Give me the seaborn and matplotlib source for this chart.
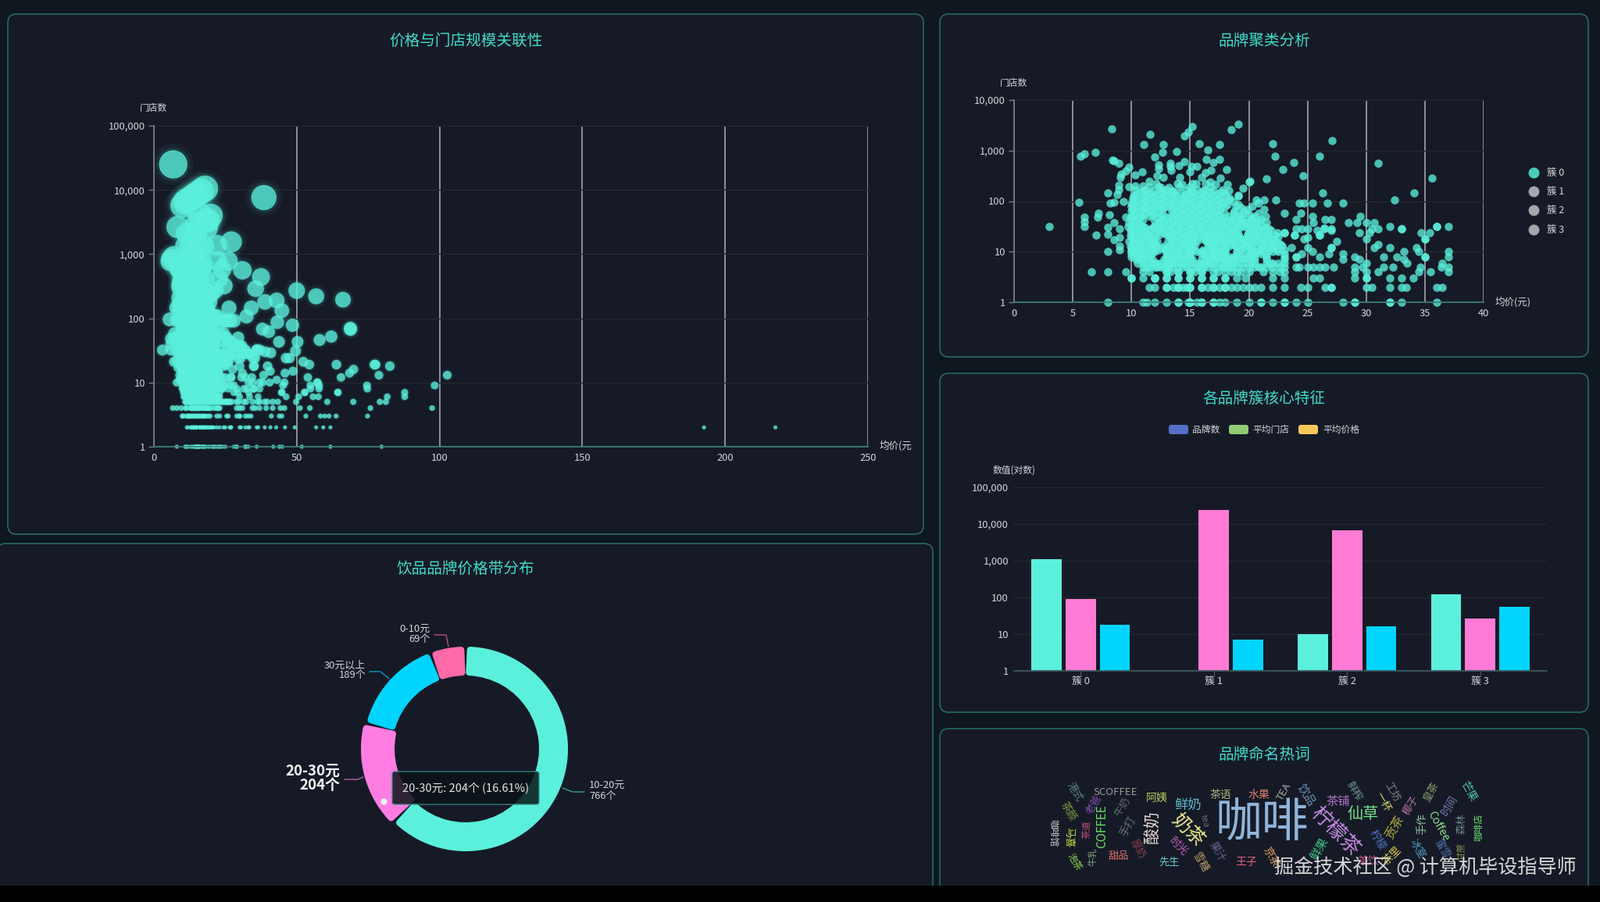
import numpy as np
import pandas as pd
import seaborn as sns
import matplotlib
matplotlib.use("Agg")
import matplotlib.pyplot as plt
from matplotlib.patches import FancyBboxPatch, Rectangle
from matplotlib.ticker import FuncFormatter, NullLocator, FixedLocator

# ---- data ----
# low store counts are integers, so the brands line up in rows
price_s1 = [8,11,11.3,12,13,14,14,14.85,15,15,15,15.6,16,16,17,17,17.5,18,19,20,21,21,22,23,23,24,25,28,29,29,32,32,33,36]
price_s2 = [11.5,12,13,13,13.6,14,14,14.4,14.7,15,15,16,16,16.5,17,17,17.5,18,18,18.5,19,19.5,20,20.5,21,22,23,24.4,25,26.5,27,27,30,30.5,32,33,33.4,36,36.5]
price_s3 = [10,10,11,12,12,12,13,13,14,14,15,15,16,16,17,17,18,18,19,19.7,22,23,25.5,26,29,30,30,32,33,34]
price_s4 = [6.6,8,9.5,11,11.5,13,13,13.3,14,14,15,15,15.4,16,16,17,17.4,18,18.5,19,19.4,20,21.2,22,22.6,23,29,30,31,34.5,35.5,37]
price_s5 = [11,11.3,11.5,12,12.2,12.5,12.8,13,13.2,13.5,14,14.4,14.7,15,15.5,15.8,16,16.2,16.5,17,17.4,17.8,18,18.3,18.5,19,19.5,20,20.4,20.8,21,21.5,22,22.6,23,24,24.3,25,25.5,26,26.5,27.2,29,29.7,31.5,32.3,34.6,36.4,37]
price_s6 = [10.5,11,11.4,11.8,12,12.2,12.5,13,13.2,13.5,13.8,14.2,14.5,15,15.4,15.7,16,16.4,16.7,17,17.5,18,18.3,18.7,19,19.5,20,20.5,21,21.5,21.8,22,22.5,23,30,33.5,36.5]
price_s7 = [10.4,10.7,11,11.5,11.8,12.2,12.5,12.8,13,13.4,13.8,14,14.5,15,15.2,15.5,16,16.3,16.5,17,17.4,17.7,18,18.3,18.5,19,19.5,20,20.3,20.5,21,21.2,21.5,22,22.5,23,28,29.4,33.2]
price_s8 = [10,10.5,10.8,11,11.5,12,12.4,12.7,13,13.2,13.5,14,14.4,14.7,15,15.5,16,16.4,16.7,17,17.2,17.5,18,18.4,18.7,19,19.5,20,20.4,20.7,21,21.5,22,22.5,23,24,24,26,29,31.5,32.6,35,35,37]
price_s9 = [10,10.3,10.7,11,11.4,11.7,12,12.2,12.5,13,13.5,14,14.5,14.8,15,15.5,16,16.2,16.5,17,17.5,17.8,18,18.5,19,19.5,20,20.2,20.5,21,21.5,22,22.4,23,24.5,26.8,28]
price_s10 = [8,10,10.5,11,12,13,13.5,14,15,15.5,16,17,17.5,18,19,20,20.5,21,22,22.5,25.4,33.2,34.5,37]
price_s11 = [10,10.4,11.2,11.7,12.3,12.9,13.6,14.2,14.9,15.3,16.1,16.8,17.3,18,18.8,19.3,20.2,20.9,21.7,22.4,23]
price_s12 = [10,10.6,11.5,12,12.5,13,14,14.5,15,16,16.5,17,18,18.5,19,19.5,20,21,21.5,22,23.6,25,27,27,30.7,32,34.3]
price_s13 = [9.9,10.8,11.3,12.1,12.8,13.3,14.1,14.6,15.4,16.2,16.7,17.5,18.3,18.9,19.7,20.5,21.2,22.1,22.8]
price_s14 = [10.2,11,11.8,12.7,13.4,14.3,15.2,16,16.9,17.7,18.6,19.4,20.3,21.2,22,22.7,31]
price_s15 = [10.1,10.7,11.6,12,13,13.7,14.5,15.1,15.8,16.5,17.2,18,18.7,19.5,20,21,21.8,22.5]
price_s16 = [9.8,10.6,11.5,12.2,13.1,14,14.7,15.6,16.4,17.3,18.1,19,19.8,20.7,21.5,22.3,27.5]
price_s17 = [10.4,11.2,11.9,12.6,13.4,14.2,15,15.5,16.3,17.1,17.9,18.8,19.6,20.4,21.3,22]
price_s18 = [10.1,11,11.8,12.8,13.5,14.4,15.2,16.1,16.8,17.7,18.5,19.4,20.2,21.1,22,24.7,30,35,35]
price_s20 = [10,10.9,11.6,12.5,13.3,13.9,14.6,15.4,16.2,16.9,17.6,18.4,19.2,20,20.9,21.7,22.5]
price_s21 = [9.9,10.7,11.4,12.3,13.2,14,14.8,15.7,16.5,17.3,18.2,19,19.9,20.6,21.5,22.2,23.9,23.9,26,26]
price_s22 = [10.5,11.3,12.1,12.9,13.6,14.4,15.1,16,16.7,17.5,18.3,19.1,19.9,20.7,21.6]
price_s24 = [10.3,11.1,12,12.8,13.6,14.5,15.3,16.2,17,17.8,18.7,19.5,20.4,21.2,22.4,23,23,29.4,30.3,34.7,35.4]
price_s26 = [9.9,10.7,11.5,12.3,13,13.9,14.7,15.5,16.3,17,17.9,18.6,19.4,20.2,21,21.9]
price_s28 = [10,10.8,11.6,12.4,13.3,14.1,15,15.8,16.6,17.5,18.3,19.1,20,20.8,21.7,24,25,24.5,26.4,27,30.5,31,33,33]
price_s30 = [10.3,11.1,11.9,12.6,13.5,14.2,15.1,15.9,16.7,17.4,18.2,19,19.8,20.6,21.4]
price_s32 = [10.2,11,11.9,12.7,13.5,14.4,15.2,16,16.9,17.7,18.6,19.4,20.3,21.1,32,36,36,37]
price_s34 = [10,10.8,11.6,12.4,13.2,14,14.9,15.7,16.4,17.2,18,18.9,19.6,20.4]
price_s37 = [9.8,10.6,11.4,12.3,13.1,14,14.8,15.6,16.5,17.3,18.1,19,19.8,20.6,21.5,25.5,28.5,29.2,30,30.7]
price_s40 = [10.4,11.2,12,12.8,13.6,14.5,15.3,16.1,16.9,17.8,18.6,19.4,20.1,20.9]
price_s43 = [10.1,11,11.8,12.6,13.5,14.3,15.1,16,16.8,17.6,18.5,19.3,20.2,21,24,26.5,27]
price_s46 = [9.9,10.6,11.4,12.2,13,13.9,14.7,15.5,16.4,17.1,17.9,18.8,19.5,20.3]
price_s50 = [10,10.8,11.6,12.5,13.3,14.1,15,15.8,16.7,17.5,18.3,19.2,20.5,21.4,25.4,29.5]
price_s54 = [10.2,11,11.8,12.7,13.5,14.3,15.1,15.9,16.6,17.4,18.2,19.1,20]
price_s58 = [10.3,11.2,12,12.9,13.7,14.5,15.4,16.2,17,17.9,18.7,19.6,20.8,23,24.4]
price_s63 = [10,10.8,11.5,12.3,13.1,14,14.8,15.6,16.4,17.2,18,18.8,19.6]
price_s68 = [10.1,10.9,11.7,12.6,13.4,14.2,15.1,15.9,16.8,17.6,18.4,19.9,21.3]
price_s74 = [10.3,11.1,11.9,12.7,13.5,14.4,15.2,16,16.8,17.6,18.5,19.4]
price_s80 = [10.4,11.2,12.1,13,13.8,14.7,15.5,16.3,17.2,18,18.9,20.3]
price_s86 = [10.1,10.9,11.6,12.4,13.3,14.1,14.9,15.7,16.6,17.4,18.2,19.1]
price_s92 = [10,11,11.8,12.6,13.5,14.3,15.1,16,16.8,17.7,19.2,20.8,24.3,24.7,25.4,26.7,28]
price_s100 = [10.4,11.2,12,12.8,13.7,14.5,15.3,16.2,17,17.8,18.7]
price_s107 = [10.5,11.4,12.3,13.1,14,14.8,15.7,16.5,17.4,18.3,19.7,20.6,21.3,22.3,32.4]
price_s115 = [10.1,11,11.7,12.5,13.4,14.2,15,15.9,16.7,17.6,18.4]
price_s125 = [10.2,11.1,11.9,12.8,13.6,14.5,15.3,16.2,17,18.1,19.1]
price_s135 = [10.4,11.3,12.1,13,13.8,14.6,15.5,16.4,17.3]
price_s145 = [10.7,11.6,12.5,13.4,14.2,15.1,15.9,16.8,17.9,26.3,34.1]
price_s160 = [10.9,12.6,13.5,15.2,16.1,17]
price_s170 = [10.3,11.2,13,14.7,15.6,17.8]
price_s190 = [11.5,12.3,14.1,15,16.7]
price_s220 = [12.1,13.9,15.5]
store_levels = [1,2,3,4,5,6,7,8,9,10,11,12,13,14,15,16,17,18,20,21,22,24,26,28,30,32,34,37,40,43,46,50,54,58,63,68,74,80,86,92,
                100,107,115,125,135,145,160,170,190,220]
price_rows = [price_s1,price_s2,price_s3,price_s4,price_s5,price_s6,price_s7,price_s8,price_s9,price_s10,
              price_s11,price_s12,price_s13,price_s14,price_s15,price_s16,price_s17,price_s18,price_s20,price_s21,
              price_s22,price_s24,price_s26,price_s28,price_s30,price_s32,price_s34,price_s37,price_s40,price_s43,
              price_s46,price_s50,price_s54,price_s58,price_s63,price_s68,price_s74,price_s80,price_s86,price_s92,
              price_s100,price_s107,price_s115,price_s125,price_s135,price_s145,price_s160,price_s170,price_s190,
              price_s220]

# dark gaps seen inside the dense cloud of the right chart
gap_price = [11.5,13,12.7,16,18.3,19.5,18.5,19.5,12.3,15.6,21,22.3]
gap_stores = [38,63,17,14,65,92,10,24,8,8,7,8]

# the loose brands of cluster 0
loose_price = [3,5.5,6,6,6,7.2,7.1,7,8.1,8,8,8.5,8.5,9,9,9,9,8.2,8.5,9.3,9.5,9.7,10,
               8.3,5.66,6,6.9,8.4,8.5,8.9,9.8,9.5,9.1,9.05,11.55,11.06,12.68,12.65,11.95,13.87,15.18,14.85,14.5,
               15.77,16.5,17.5,18.5,19.1,16.35,16.95,17.5,18.1,12.3,13.3,14.5,15.6,14.07,
               8,8.9,8.9,8.8,9.8,10.3,11,10.9,10.3,11.5,12.3,12.7,12.2,13.4,13.3,14.1,15,15.1,16,16.3,16.8,17.6,18.2,18.3,
               16.7,16.3,17.2,12.5,13.2,11.9,13.6,14.3,15.2,19.5,19.1,20,15,16.3,17.6,14.5,
               22,22.2,22.9,23.8,21.5,20.1,24.6,26,27.1,31,35.6,27,25,25.8,26.4]
loose_stores = [32,96,48,39,32,58,48,21,53,30,22,38,17,19,28,13,11,93,96,98,48,32,78,
                2640,770,850,935,650,615,570,470,400,340,300,2090,1320,1340,910,740,965,3020,2340,1960,
                1350,1020,1340,2560,3310,680,575,660,415,515,565,600,480,505,
                145,210,165,135,195,200,200,380,330,250,435,300,315,410,490,300,380,490,300,360,410,290,215,160,
                240,225,215,185,185,160,150,215,225,180,130,240,150,165,150,115,
                1380,780,420,575,275,245,320,780,1550,560,290,26,19,26,29]

# brands outside cluster 0, only in the left chart
other_price = [6.75,17.9,16.5,15,13.8,12,11,10,18.3,16,20,38.5,
               50,56.8,66.2,37.5,38.9,43,44.8,43.2,48.5,38,40.2,68.8,68.8,62.1,58,43.8,50.3,49.6,39,40.9,46.2,47.5,
               52.3,54.4,63.9,77.2,69.9,68.5,65.5,39.8,40.7,38.4,45.9,48.7,43,53.9,45.2,45.7,57.3,40.5,38,74.7,57.8,54.8,
               44.7,52.8,64.4,46.3,50.7,55.7,57.6,81.7,87.8,44.8,52.8,64.4,87.8,
               54.8,57.8,74.6,98.3,102.7,77.6,82.6,78.8,57.2,
               38.8,40.8,42.8,45.9,49.3,56.8,59.3,61.8,41.1,43.9,44.8,53.2,58.3,59.8,61.3,63.8,74.8,
               39.3,41.6,44.3,45.7,51.1,54.6,75.8,97.4,38.8,39.7,41.6,43.4,49.8,60.7,69.8,79.1,81.2,
               41.8,43.9,44.9,51.8,61.8,79.7,192.6,217.6]
other_stores = [25000,10500,9500,8500,7900,7000,6500,5700,3400,4200,4000,7600,
                270,220,195,440,180,190,132,87,78,68,62,67,70,52,46,43,43,31,30,29,24,24,
                21,19,19,19,16,14,12,18,15,13,14,15,11,12,9,10,10,10,10,8,8,8,
                7,7,7,6,6,6,6,6,6,7,7,7,7,
                9,9,9,9,13,19,18,13,10,
                2,2,2,2,2,2,2,2,3,3,3,3,3,3,3,3,3,
                4,4,4,4,4,4,4,4,5,5,5,5,5,5,5,5,5,
                1,1,1,1,1,1,2,2]

cluster_names = ["簇 0", "簇 1", "簇 2", "簇 3"]
bar_metrics = ["品牌数", "平均门店", "平均价格"]
brand_count = [1100, 1, 10, 120]
avg_stores = [90, 24700, 6900, 26]
avg_price = [17.6, 7, 16, 56]

band_names = ["10-20元", "20-30元", "30元以上", "0-10元"]
band_counts = [766, 204, 189, 69]

cloud_words = ["咖啡","柠檬茶","奶茶","酸奶","仙草","鲜奶","COFFEE","SCOFFEE","Coffee","阿姨","茶语","水果","TEA","饮品","茶铺",
               "鲜榨","工坊","一杯","椰子","皇茶","时间","芒果","贡茶","手作","森林","咖啡店","柠檬","冰室","蜜雪","甘蔗",
               "果汁","时光","雪糖","先生","王子","甜品","厚奶","牛乳","泡茶","咖啡馆","马喜","茶道","手打","牛奶","茶颜",
               "老爸","港式","tea","鲜果","茶里","京茶","茶饮"]

# ---- layout helpers ----
W, H = 2048, 1155
TEAL = "#5af0dc"
PINK = "#ff7bd5"
BLUE = "#00d4ff"
BG = "#151a26"
TXT = "#d4d6d8"

sns.set_theme(style="dark")
plt.rcParams["font.family"] = ["Noto Sans CJK SC", "DejaVu Sans"]
plt.rcParams["axes.unicode_minus"] = False

fig = plt.figure(figsize=(W / 100, H / 100), dpi=100, facecolor="#0f171f")


def box(x0, y0, x1, y1, z=2):
    a = fig.add_axes([x0 / W, 1 - y1 / H, (x1 - x0) / W, (y1 - y0) / H], zorder=z)
    a.patch.set_alpha(0)
    return a


back = box(0, 0, W, H, z=0)
back.set_xlim(0, W)
back.set_ylim(H, 0)
back.axis("off")
over = box(0, 0, W, H, z=10)
over.set_xlim(0, W)
over.set_ylim(H, 0)
over.axis("off")

for x0, y0, x1, y1 in [(10, 18, 1182, 684), (1203, 18, 2033, 457), (1203, 478, 2033, 912),
                       (1203, 933, 2033, 1170), (-4, 696, 1194, 1170)]:
    back.add_patch(FancyBboxPatch((x0, y0), x1 - x0, y1 - y0, boxstyle="round,pad=0,rounding_size=11",
                                  fc=BG, ec="#2a6f69", lw=1.1))

for t, cx, cy in [("价格与门店规模关联性", 596, 52), ("品牌聚类分析", 1618, 52), ("各品牌簇核心特征", 1618, 510),
                  ("品牌命名热词", 1618, 966), ("饮品品牌价格带分布", 596, 728)]:
    over.text(cx, cy, t, color="#3fdccb", fontsize=14.1, ha="center", va="center")


def style_axes(a, xticks, xmax, ymax):
    a.set_yscale("log")
    a.set_ylim(1, ymax)
    a.set_xlim(0, xmax)
    a.set_xticks(xticks)
    a.yaxis.set_major_locator(FixedLocator([10 ** i for i in range(int(np.log10(ymax)) + 1)]))
    a.yaxis.set_minor_locator(NullLocator())
    a.yaxis.set_major_formatter(FuncFormatter(lambda v, _: f"{int(v):,}"))
    a.set_xlabel("")
    a.set_ylabel("")
    a.grid(axis="y", color="#23272f", lw=1)
    a.grid(axis="x", color="#b0b2b8", lw=1.1)
    a.set_axisbelow(True)
    for s in ["top", "right"]:
        a.spines[s].set_visible(False)
    a.spines["left"].set_color("#777b84")
    a.spines["bottom"].set_color("#3d8079")
    a.tick_params(axis="y", colors=TXT, labelsize=9.3, length=5, width=1, color="#777b84", pad=3, left=True)
    a.tick_params(axis="x", colors=TXT, labelsize=9.3, length=0, pad=6)


# ---- price / stores bubble chart and cluster scatter share the brands ----
rows = [pd.DataFrame({"price": p, "stores": lv}) for lv, p in zip(store_levels, price_rows)]
rows.append(pd.DataFrame({"price": loose_price, "stores": loose_stores}))
c0 = pd.concat(rows, ignore_index=True)
# leave the dark gaps open (distance in px of the right chart)
for gp, gs in zip(gap_price, gap_stores):
    dx = (c0["price"] - gp) * 15
    dy = (np.log10(c0["stores"]) - np.log10(gs)) * 65
    c0 = c0[np.hypot(dx, dy) > 6.2]
all_brands = pd.concat([c0, pd.DataFrame({"price": other_price, "stores": other_stores})], ignore_index=True)
all_brands = all_brands.sort_values("stores", ascending=False)

ax_a = box(197, 161, 1111, 572)
dia = np.maximum(5, 2.5 + 7.7 * np.log10(all_brands["stores"].values))  # px
size = (dia * 0.72) ** 2
sns.scatterplot(data=all_brands, x="price", y="stores", ax=ax_a, s=size * 2.1, color=TEAL, alpha=0.05, linewidth=0, clip_on=False)
sns.scatterplot(data=all_brands, x="price", y="stores", ax=ax_a, s=size * 1.4, color=TEAL, alpha=0.1, linewidth=0, clip_on=False)
sns.scatterplot(data=all_brands, x="price", y="stores", ax=ax_a, s=size, color=TEAL, alpha=0.78, linewidth=0, clip_on=False)
style_axes(ax_a, [0, 50, 100, 150, 200, 250], 250, 100000)
over.text(197, 138, "门店数", color=TXT, fontsize=8.5, ha="center", va="center")
over.text(1126, 571, "均价(元", color=TXT, fontsize=9, ha="left", va="center")

ax_b = box(1298, 128, 1899, 387)
sns.scatterplot(data=c0, x="price", y="stores", ax=ax_b, s=(10.5 * 0.72) ** 2, color=TEAL, alpha=0.78, linewidth=0, clip_on=False)
style_axes(ax_b, list(range(0, 41, 5)), 40, 10000)
over.text(1298, 106, "门店数", color=TXT, fontsize=8.5, ha="center", va="center")
over.text(1914, 387, "均价(元)", color=TXT, fontsize=9, ha="left", va="center")
for i, name in enumerate(cluster_names):
    yy = [221, 245, 269, 294][i]
    over.plot([1963], [yy], "o", ms=10, mew=0, color="#48cdb8" if i == 0 else "#a4a7ad")
    over.text(1980, yy, name, color=TXT, fontsize=9, va="center")

# ---- grouped log bars ----
bars = pd.DataFrame({
    "cluster": cluster_names * 3,
    "metric": np.repeat(bar_metrics, 4),
    "value": brand_count + avg_stores + avg_price,
})
ax_c = box(1298, 624, 1980, 859)
sns.barplot(data=bars, x="cluster", y="value", hue="metric", ax=ax_c, palette=[TEAL, PINK, BLUE],
            width=0.77, gap=0.12, legend=False, saturation=1, errorbar=None)
for p in ax_c.patches:
    p.set_linewidth(0)
ax_c.set_yscale("log")
ax_c.set_xlim(-0.5, 3.5)
ax_c.set_ylim(1, 100000)
ax_c.yaxis.set_major_locator(FixedLocator([1, 10, 100, 1000, 10000, 100000]))
ax_c.yaxis.set_minor_locator(NullLocator())
ax_c.yaxis.set_major_formatter(FuncFormatter(lambda v, _: f"{int(v):,}"))
ax_c.set_xlabel("")
ax_c.set_ylabel("")
ax_c.grid(axis="y", color="#23272f", lw=1)
ax_c.grid(axis="x", visible=False)
ax_c.set_axisbelow(True)
for s in ["top", "right", "left"]:
    ax_c.spines[s].set_visible(False)
ax_c.spines["bottom"].set_color("#3f5a60")
ax_c.tick_params(axis="y", colors=TXT, labelsize=9.3, length=0, pad=5)
ax_c.tick_params(axis="x", colors=TXT, labelsize=9.3, length=4, width=1, color="#3f5a60", pad=2, bottom=True)
over.text(1298, 602, "数值(对数)", color=TXT, fontsize=8.5, ha="center", va="center")
for name, col, x0, xt in zip(bar_metrics, ["#5470c6", "#91cc75", "#fac858"], [1496, 1573, 1662], [1526, 1603, 1693]):
    over.add_patch(FancyBboxPatch((x0, 544), 25, 12, boxstyle="round,pad=0,rounding_size=3", fc=col, ec="none"))
    over.text(xt, 550, name, color=TXT, fontsize=8.5, va="center")

# ---- price band donut ----
R = 130
ax_d = box(596 - 1.1 * R, 959 - 1.1 * R, 596 + 1.1 * R, 959 + 1.1 * R, z=3)
wedges, _ = ax_d.pie(band_counts, startangle=90, counterclock=False, radius=1,
                     colors=[TEAL, "#ff7de2", BLUE, "#ff69a8"])
ax_d.set_xlim(-1.1, 1.1)
ax_d.set_ylim(-1.1, 1.1)
for i, w in enumerate(wedges):
    outer, inner = (130, 95) if i == 1 else (127, 98)
    w.set_theta1(w.theta1 + 2.6)
    w.set_theta2(w.theta2 - 2.6)
    w.set_radius(outer / R)
    w.set_width((outer - inner) / R)
    w.set_edgecolor(w.get_facecolor())
    w.set_linewidth(5.8)
    w.set_joinstyle("round")

over.text(551, 812.5, "0-10元\n69个", color=TXT, fontsize=9.3, ha="right", va="center", linespacing=0.95)
over.plot([556, 571, 574], [813, 813, 828], color="#ff69a8", lw=1, alpha=0.7)
over.text(468, 858.5, "30元以上\n189个", color=TXT, fontsize=9.3, ha="right", va="center", linespacing=0.95)
over.plot([473, 487, 498], [860, 860, 869], color=BLUE, lw=1, alpha=0.7)
over.text(435, 996, "20-30元\n204个", color="#f4f4f4", fontsize=13.5, fontweight="bold", ha="right", va="center", linespacing=0.95)
over.plot([441, 458, 465], [998, 998, 995], color="#ff7de2", lw=1, alpha=0.7)
over.text(754, 1013, "10-20元\n766个", color=TXT, fontsize=9.3, ha="left", va="center", linespacing=0.95)
over.plot([720, 733, 748], [1009, 1014, 1014], color=TEAL, lw=1, alpha=0.6)
over.add_patch(FancyBboxPatch((502, 988), 188, 42, boxstyle="round,pad=0,rounding_size=3",
                              fc="#0b1418", ec="#3d8f8a", lw=1, alpha=0.85))
over.text(596, 1010, "20-30元: 204个 (16.61%)", color="#e2e4e4", fontsize=10.5, ha="center", va="center")
over.plot([491], [1026], marker="o", ms=6, mew=0, color="#f2f2f2")  # mouse pointer

# ---- word cloud, placed by hand ----
cloud_x = [1615,1709,1520,1476,1745,1521,1411,1428,1841,1481,1562,1611,1643,1672,1713,1733,1782,1770,1806,1832,1855,1880,
           1785,1820,1871,1892,1763,1814,1846,1871,1558,1508,1537,1497,1595,1432,1456,1399,1375,1348,1368,1391,1444,1437,1367,1400,1375,1542,1689,1782,1627,1751]
cloud_y = [1055,1065,1064,1059,1043,1031,1058,1014,1058,1022,1018,1018,1014,1018,1026,1013,1014,1027,1031,1014,1031,1014,
           1059,1055,1055,1059,1076,1087,1087,1090,1091,1084,1104,1104,1104,1096,1087,1097,1104,1067,1072,1062,1058,1033,1039,1030,1014,1051,1087,1096,1098,1103]
cloud_fs = [43,18.5,17.5,15,14.5,12.5,11,9.5,10,10,10,10,9.5,11,11,9.5,9.5,9.5,9.5,9.5,10,10,
            11.5,10,9.5,8.5,10,9.5,9.5,8.5,10,10,9.5,9.5,10,9.5,9.5,8.5,8.5,8.5,9.5,8.5,10,9.5,9.5,9.5,9.5,8,11,10,10,10]
cloud_rot = [0,-45,-45,90,0,0,90,0,-60,0,0,0,60,-60,0,-60,-60,-60,60,60,60,-60,60,90,90,90,-60,-60,-60,90,-60,-45,-60,0,0,0,-60,90,-60,-90,-90,90,60,60,-60,60,-60,-75,60,45,-60,0]
cloud_col = ["#8fb4d9","#c58ae0","#e8e888","#e6d9d0","#6fe08a","#5fb8c8","#66e066","#9a9a9a","#8ee08e","#b8c860","#b0b080","#e08070",
             "#a8a8a8","#6a90b0","#b070c0","#6a9090","#808080","#d8d870","#b070a0","#90a070","#7878a8","#50c0b0","#b0b040","#90c0a0",
             "#708090","#70e070","#5070c0","#50a0c0","#5070b0","#809050","#706090","#c060c0","#c0a070","#60d0d0","#e06080","#e07070",
             "#904050","#80a080","#90e050","#d0d0d0","#c0e040","#c05080","#607080","#606868","#80a040","#8050b0","#608080","#707070",
             "#40c080","#d0c040","#e0a060","#c05080"]
for word, x, y, fs, rot, col in zip(cloud_words, cloud_x, cloud_y, cloud_fs, cloud_rot, cloud_col):
    over.text(x, y, word, fontsize=fs, rotation=rot, color=col, ha="center", va="center", rotation_mode="anchor")

# video frame on top: black strip and watermark
over.add_patch(Rectangle((0, 1134), W, 21, fc="#000000", ec="none"))
over.text(2018, 1111, "掘金技术社区 @ 计算机毕设指导师", color="#d6d6d6", fontsize=18.1, ha="right", va="center")

fig.savefig("out.png", dpi=100, facecolor=fig.get_facecolor())
